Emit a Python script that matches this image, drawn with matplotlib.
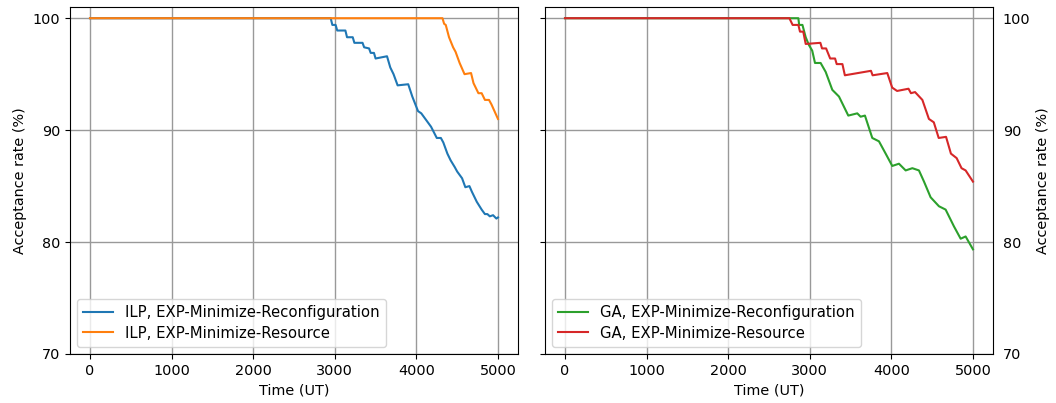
import matplotlib
matplotlib.use("Agg")
import matplotlib.pyplot as plt

# ILP, EXP-Minimize-Reconfiguration
ilp_rec_t = [0, 2950, 2970, 3010, 3030, 3130, 3150, 3220, 3240, 3340, 3360, 3420, 3440, 3480, 3500,
             3640, 3680, 3720, 3770, 3900, 3950, 4020, 4060, 4120, 4180, 4250, 4300, 4330, 4380, 4420,
             4470, 4500, 4560, 4600, 4650, 4680, 4740, 4800, 4840, 4870, 4900, 4940, 4980, 5000]
ilp_rec_y = [100, 100, 99.4, 99.4, 98.9, 98.9, 98.3, 98.3, 97.8, 97.8, 97.4, 97.3, 96.9, 96.9, 96.4,
             96.6, 95.6, 95.0, 94.0, 94.1, 93.0, 91.7, 91.5, 90.9, 90.3, 89.3, 89.3, 88.9, 87.9, 87.3,
             86.7, 86.3, 85.7, 84.9, 85.0, 84.5, 83.6, 82.9, 82.5, 82.5, 82.3, 82.4, 82.1, 82.2]

# ILP, EXP-Minimize-Resource
ilp_res_t = [0, 4320, 4340, 4360, 4400, 4450, 4480, 4530, 4590, 4670, 4700, 4760, 4800, 4840, 4890, 4920, 5000]
ilp_res_y = [100, 100, 99.5, 99.4, 98.3, 97.4, 97.0, 96.0, 95.0, 95.1, 94.2, 93.3, 93.3, 92.7, 92.7, 92.3, 91.0]

# GA, EXP-Minimize-Reconfiguration
ga_rec_t = [0, 2860, 2870, 2910, 2950, 2990, 3030, 3064, 3133, 3195, 3276, 3358, 3472, 3582, 3623,
            3676, 3766, 3848, 3930, 4011, 4093, 4175, 4257, 4338, 4400, 4481, 4583, 4665, 4767, 4849,
            4910, 5000]
ga_rec_y = [100, 100, 99.4, 99.4, 98.3, 97.6, 97.1, 96.0, 96.0, 95.2, 93.6, 93.0, 91.3, 91.5, 91.2,
            91.3, 89.3, 89.0, 87.9, 86.8, 87.0, 86.4, 86.6, 86.4, 85.4, 84.0, 83.2, 82.9, 81.4, 80.3,
            80.5, 79.35]

# GA, EXP-Minimize-Resource
ga_res_t = [0, 2750, 2790, 2860, 2880, 2920, 2950, 3130, 3150, 3200, 3250, 3310, 3330, 3400, 3430,
            3750, 3770, 3950, 4010, 4070, 4210, 4240, 4290, 4380, 4460, 4520, 4580, 4670, 4730, 4800,
            4860, 4910, 5000]
ga_res_y = [100, 100, 99.4, 99.4, 98.8, 98.8, 97.7, 97.8, 97.3, 97.3, 96.4, 96.4, 95.9, 95.9, 94.9,
            95.3, 94.9, 95.1, 93.8, 93.5, 93.7, 93.3, 93.4, 92.7, 91.0, 90.7, 89.3, 89.4, 87.9, 87.5,
            86.6, 86.4, 85.4]

xticks = [0, 1000, 2000, 3000, 4000, 5000]
yticks = [70, 80, 90, 100]

plt.rcParams["font.size"] = 10.4

fig = plt.figure(figsize=(10.56, 4.03), dpi=100)
ax1 = fig.add_axes([0.0663, 0.1216, 0.4242, 0.861])
ax2 = fig.add_axes([0.5161, 0.1216, 0.4242, 0.861], sharey=ax1)

ax1.plot(ilp_rec_t, ilp_rec_y, color="#1f77b4", lw=1.5, label="ILP, EXP-Minimize-Reconfiguration")
ax1.plot(ilp_res_t, ilp_res_y, color="#ff7f0e", lw=1.5, label="ILP, EXP-Minimize-Resource")
ax2.plot(ga_rec_t, ga_rec_y, color="#2ca02c", lw=1.5, label="GA, EXP-Minimize-Reconfiguration")
ax2.plot(ga_res_t, ga_res_y, color="#d62728", lw=1.5, label="GA, EXP-Minimize-Resource")

for ax in (ax1, ax2):
    ax.set_xticks(xticks)
    ax.set_yticks(yticks)
    ax.set_ylim(70, 101)
    ax.set_xlim(-245, 5245)
    ax.grid(True, color="#999999", lw=1.0)
    ax.set_axisbelow(True)
    ax.set_xlabel("Time (UT)")
    ax.legend(loc="lower left", fontsize=10.7, labelspacing=0.35)

ax1.set_ylabel("Acceptance rate (%)")
ax2.tick_params(axis="y", left=True, labelleft=False, right=False, labelright=True)
ax2.yaxis.set_label_position("right")
ax2.set_ylabel("Acceptance rate (%)")

fig.savefig("out.png", dpi=100)
